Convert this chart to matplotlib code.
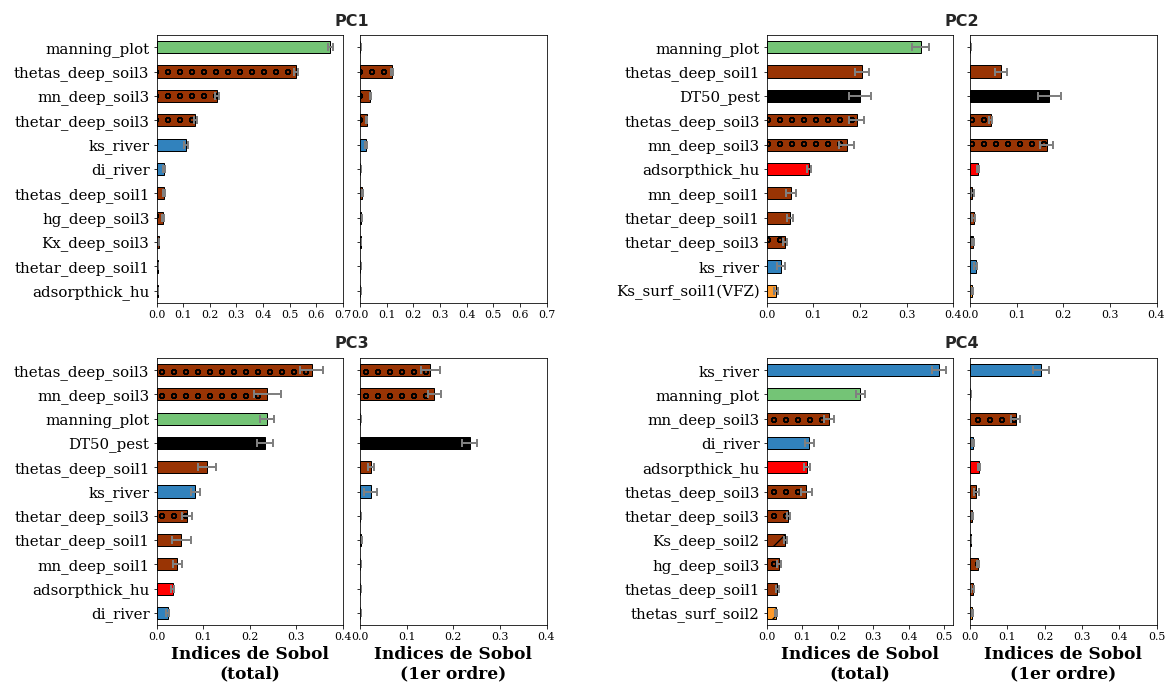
import numpy as np
import matplotlib.pyplot as plt

# Sobol indices per principal component
pc1_names = ["manning_plot", "thetas_deep_soil3", "mn_deep_soil3", "thetar_deep_soil3",
             "ks_river", "di_river", "thetas_deep_soil1", "hg_deep_soil3",
             "Kx_deep_soil3", "thetar_deep_soil1", "adsorpthick_hu"]
pc1_total = [0.653, 0.524, 0.228, 0.146, 0.111, 0.029, 0.028, 0.024, 0.008, 0.005, 0.005]
pc1_total_err = [0.010, 0.008, 0.008, 0.005, 0.006, 0.003, 0.005, 0.004, 0.003, 0.002, 0.002]
pc1_first = [0.001, 0.119, 0.039, 0.025, 0.022, 0.001, 0.007, 0.004, 0.003, 0.001, 0.001]
pc1_first_err = [0.001, 0.004, 0.003, 0.003, 0.003, 0.001, 0.003, 0.002, 0.001, 0.001, 0.001]

pc2_names = ["manning_plot", "thetas_deep_soil1", "DT50_pest", "thetas_deep_soil3",
             "mn_deep_soil3", "adsorpthick_hu", "mn_deep_soil1", "thetar_deep_soil1",
             "thetar_deep_soil3", "ks_river", "Ks_surf_soil1(VFZ)"]
pc2_total = [0.330, 0.204, 0.200, 0.193, 0.172, 0.091, 0.052, 0.050, 0.040, 0.031, 0.020]
pc2_total_err = [0.018, 0.015, 0.023, 0.016, 0.016, 0.005, 0.011, 0.007, 0.004, 0.008, 0.005]
pc2_first = [0.001, 0.066, 0.170, 0.044, 0.165, 0.017, 0.005, 0.008, 0.006, 0.012, 0.005]
pc2_first_err = [0.001, 0.013, 0.025, 0.004, 0.014, 0.003, 0.003, 0.003, 0.002, 0.004, 0.002]

pc3_names = ["thetas_deep_soil3", "mn_deep_soil3", "manning_plot", "DT50_pest",
             "thetas_deep_soil1", "ks_river", "thetar_deep_soil3", "thetar_deep_soil1",
             "mn_deep_soil1", "adsorpthick_hu", "di_river"]
pc3_total = [0.333, 0.238, 0.238, 0.232, 0.108, 0.083, 0.065, 0.053, 0.045, 0.035, 0.024]
pc3_total_err = [0.025, 0.028, 0.015, 0.017, 0.019, 0.010, 0.011, 0.020, 0.010, 0.003, 0.003]
pc3_first = [0.151, 0.159, 0.001, 0.235, 0.024, 0.023, 0.001, 0.002, 0.001, 0.001, 0.001]
pc3_first_err = [0.021, 0.014, 0.001, 0.017, 0.007, 0.014, 0.001, 0.002, 0.001, 0.001, 0.001]

pc4_names = ["ks_river", "manning_plot", "mn_deep_soil3", "di_river", "adsorpthick_hu",
             "thetas_deep_soil3", "thetar_deep_soil3", "Ks_deep_soil2", "hg_deep_soil3",
             "thetas_deep_soil1", "thetas_surf_soil2"]
pc4_total = [0.486, 0.264, 0.176, 0.120, 0.113, 0.112, 0.061, 0.053, 0.034, 0.030, 0.026]
pc4_total_err = [0.020, 0.013, 0.015, 0.013, 0.008, 0.016, 0.005, 0.005, 0.005, 0.004, 0.004]
pc4_first = [0.190, 0.001, 0.122, 0.008, 0.024, 0.017, 0.005, 0.003, 0.021, 0.007, 0.005]
pc4_first_err = [0.022, 0.001, 0.012, 0.003, 0.003, 0.006, 0.002, 0.001, 0.003, 0.005, 0.003]

pc_titles = ["PC1", "PC2", "PC3", "PC4"]
W, H, DPI = 1169, 684, 72


def bar_style(name):
    # colour by parameter group, hatch by soil layer
    if name == "manning_plot":
        color = "#74c476"
    elif "river" in name:
        color = "#3182bd"
    elif name == "DT50_pest":
        color = "black"
    elif name == "adsorpthick_hu":
        color = "#ff0000"
    elif "surf" in name:
        color = "#fe9929"
    else:
        color = "#993404"
    if "soil3" in name:
        hatch = "o"
    elif "deep_soil2" in name:
        hatch = "/"
    elif "surf_soil2" in name:
        hatch = "x"
    else:
        hatch = ""
    return color, hatch


def draw(ax, names, vals, errs, show_labels):
    y = np.arange(len(names))
    for yi, name, v, e in zip(y, names, vals, errs):
        color, hatch = bar_style(name)
        ax.barh(yi, v, height=0.5, color=color, edgecolor="black", linewidth=1.0,
                hatch=hatch, xerr=e, ecolor="#808080",
                error_kw=dict(elinewidth=2, capsize=4, capthick=2))
    ax.set_ylim(len(names) - 0.5, -0.5)
    ax.set_yticks(y)
    if show_labels:
        ax.set_yticklabels(names, fontsize=15, family="DejaVu Serif")
    else:
        ax.set_yticklabels([])
    for lab in ax.get_xticklabels():
        lab.set_family("DejaVu Serif")
    ax.tick_params(axis="x", labelsize=11)


plt.rcParams["hatch.linewidth"] = 1.3
fig = plt.figure(figsize=(W / DPI, H / DPI), dpi=DPI)

data = [
    (pc1_names, pc1_total, pc1_total_err, pc1_first, pc1_first_err, 0.7, 0.7),
    (pc2_names, pc2_total, pc2_total_err, pc2_first, pc2_first_err, 0.4, 0.4),
    (pc3_names, pc3_total, pc3_total_err, pc3_first, pc3_first_err, 0.4, 0.4),
    (pc4_names, pc4_total, pc4_total_err, pc4_first, pc4_first_err, 0.526, 0.5),
]

# pixel boxes of the axes pairs: (left_ax_x0, right_ax_x0, top_y, bottom_y)
col_x = [(156.5, 360.0), (766.7, 970.0)]
row_y = [(35, 303), (358, 625)]
ax_w = 186.5

for i, (names, tot, tot_e, fst, fst_e, xmax_t, xmax_f) in enumerate(data):
    r, c = divmod(i, 2)
    x0a, x0b = col_x[c]
    ytop, ybot = row_y[r]
    b = 1 - ybot / H
    h = (ybot - ytop) / H
    ax1 = fig.add_axes([x0a / W, b, ax_w / W, h])
    ax2 = fig.add_axes([x0b / W, b, ax_w / W, h])
    draw(ax1, names, tot, tot_e, True)
    draw(ax2, names, fst, fst_e, False)
    ax1.set_xlim(0, xmax_t)
    ax2.set_xlim(0, xmax_f)
    step = np.arange(0, xmax_t + 1e-6, 0.1)
    ax1.set_xticks(step)
    ax2.set_xticks(np.arange(0, xmax_f + 1e-6, 0.1))
    for ax in (ax1, ax2):
        ax.set_xticklabels([f"{t:.1f}" for t in ax.get_xticks()],
                           family="DejaVu Serif", fontsize=11)
    if r == 1:
        ax1.set_xlabel("Indices de Sobol\n(total)", fontsize=17,
                       fontweight="bold", family="DejaVu Serif")
        ax2.set_xlabel("Indices de Sobol\n(1er ordre)", fontsize=17,
                       fontweight="bold", family="DejaVu Serif")
    cx = (x0a + x0b + ax_w) / 2
    fig.text(cx / W, 1 - (ytop - 14) / H, pc_titles[i], ha="center", va="center",
             fontsize=16, fontweight="bold", color="#262626")

fig.savefig("out.png", dpi=DPI)
